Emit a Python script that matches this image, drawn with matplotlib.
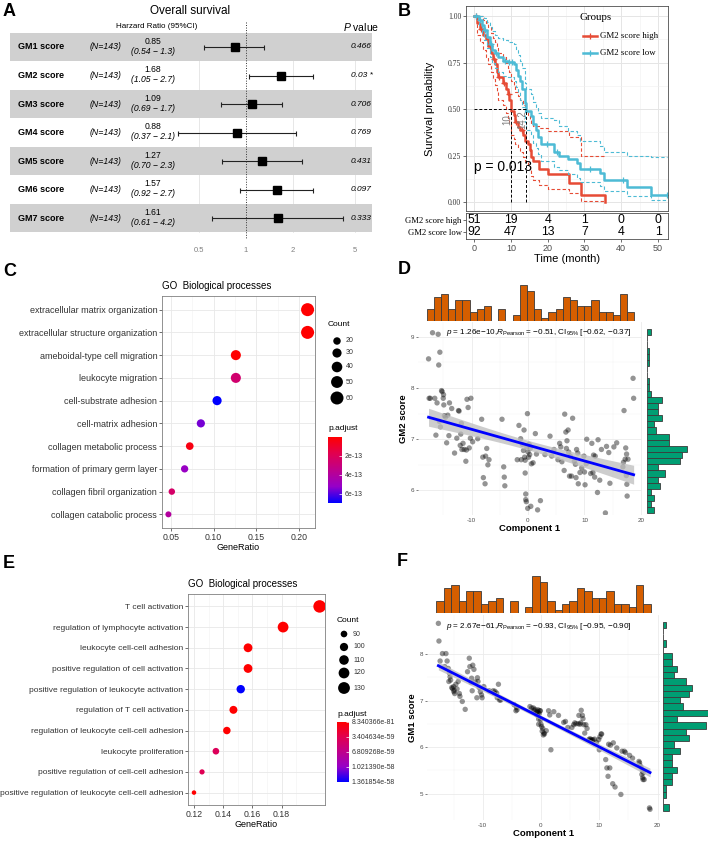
import numpy as np
import matplotlib
matplotlib.use("Agg")
import matplotlib.pyplot as plt
from matplotlib.colors import LinearSegmentedColormap, Normalize
from matplotlib.cm import ScalarMappable
from matplotlib.lines import Line2D
from matplotlib.transforms import blended_transform_factory

plt.rcParams['font.family'] = ['Liberation Sans', 'DejaVu Sans']
plt.rcParams['axes.unicode_minus'] = False
plt.rcParams['mathtext.fontset'] = 'custom'
plt.rcParams['mathtext.rm'] = 'Liberation Sans'
plt.rcParams['mathtext.it'] = 'Liberation Sans:italic'
plt.rcParams['mathtext.bf'] = 'Liberation Sans:bold'

SERIF = 'Liberation Serif'

# ---------------- data: A (forest) ----------------
scores = ['GM1 score', 'GM2 score', 'GM3 score', 'GM4 score', 'GM5 score', 'GM6 score', 'GM7 score']
n_pat = 143
hr = [0.85, 1.68, 1.09, 0.88, 1.27, 1.57, 1.61]
hr_lo = [0.54, 1.05, 0.69, 0.37, 0.70, 0.92, 0.61]
hr_hi = [1.3, 2.7, 1.7, 2.1, 2.3, 2.7, 4.2]
pvals = ['0.466', '0.03 *', '0.706', '0.769', '0.431', '0.097', '0.333']

# ---------------- data: B (Kaplan-Meier) ----------------
groups = ['GM2 score high', 'GM2 score low']
high_t = [0, 0.9, 1.6, 2.5, 3.2, 3.9, 4.6, 5.2, 5.8, 6.3, 6.5, 7.9, 8.8, 9.2, 9.6, 10.0, 10.8, 11.2,
          11.9, 12.5, 13.3, 13.7, 14.6, 15.1, 15.5, 16.1, 17.7, 20.0, 25.8, 29.1, 35.7]
high_s = [1.0, 0.96, 0.93, 0.90, 0.875, 0.84, 0.80, 0.77, 0.74, 0.70, 0.67, 0.64, 0.61, 0.58, 0.55, 0.49,
          0.47, 0.43, 0.405, 0.39, 0.36, 0.33, 0.31, 0.28, 0.24, 0.22, 0.18, 0.15, 0.104, 0.038, 0.0]
high_hi = [1.0, 1.0, 1.0, 0.98, 0.96, 0.94, 0.91, 0.88, 0.86, 0.83, 0.80, 0.78, 0.75, 0.72, 0.70, 0.65,
           0.63, 0.59, 0.57, 0.55, 0.52, 0.49, 0.47, 0.44, 0.42, 0.41, 0.40, 0.38, 0.35, 0.25, 0.25]
high_lo = [1.0, 0.90, 0.86, 0.82, 0.78, 0.74, 0.70, 0.66, 0.63, 0.59, 0.55, 0.52, 0.48, 0.45, 0.42, 0.36,
           0.34, 0.31, 0.29, 0.27, 0.24, 0.22, 0.20, 0.17, 0.14, 0.12, 0.09, 0.07, 0.05, 0.006, 0.006]
high_cens = [0.5, 1.8, 4.2, 5.5, 6.9, 8.2, 9.4, 11.5, 13.0]

low_t = [0, 1.2, 2.1, 2.7, 3.4, 4.3, 5.0, 5.6, 6.5, 7.9, 9.2, 10.8, 11.3, 11.9, 12.5, 13.1, 13.7, 13.9,
         14.2, 15.5, 16.1, 16.8, 17.5, 18.2, 21.6, 23.1, 25.4, 28.0, 28.9, 34.1, 35.2, 41.5, 48.2, 52.5]
low_s = [1.0, 0.98, 0.95, 0.925, 0.89, 0.85, 0.82, 0.80, 0.78, 0.76, 0.755, 0.74, 0.71, 0.68, 0.65, 0.61,
         0.57, 0.53, 0.49, 0.46, 0.42, 0.39, 0.35, 0.31, 0.27, 0.25, 0.23, 0.21, 0.18, 0.154, 0.118, 0.082,
         0.038, 0.038]
low_hi = [1.0, 1.0, 1.0, 0.99, 0.97, 0.94, 0.92, 0.90, 0.88, 0.87, 0.86, 0.85, 0.82, 0.79, 0.76, 0.72,
          0.68, 0.64, 0.61, 0.58, 0.54, 0.51, 0.48, 0.45, 0.44, 0.41, 0.38, 0.36, 0.33, 0.30, 0.27, 0.25,
          0.24, 0.24]
low_lo = [1.0, 0.95, 0.91, 0.87, 0.83, 0.78, 0.75, 0.72, 0.70, 0.68, 0.67, 0.65, 0.62, 0.59, 0.55, 0.51,
          0.47, 0.43, 0.39, 0.36, 0.32, 0.29, 0.26, 0.22, 0.19, 0.17, 0.15, 0.13, 0.11, 0.085, 0.06, 0.035,
          0.01, 0.01]
low_cens = [0.6, 1.5, 3.0, 4.6, 6.0, 8.5, 9.6, 10.2, 19.8, 22.5, 31.6, 40.4, 52.5]

risk_times = [0, 10, 20, 30, 40, 50]
risk_high = [51, 19, 4, 1, 0, 0]
risk_low = [92, 47, 13, 7, 4, 1]

# ---------------- data: C and E (GO dot plots) ----------------
c_terms = ['extracellular matrix organization', 'extracellular structure organization',
           'ameboidal-type cell migration', 'leukocyte migration', 'cell-substrate adhesion',
           'cell-matrix adhesion', 'collagen metabolic process', 'formation of primary germ layer',
           'collagen fibril organization', 'collagen catabolic process']
c_ratio = [0.210, 0.210, 0.126, 0.126, 0.104, 0.085, 0.072, 0.066, 0.051, 0.047]
c_count = [60, 60, 36, 36, 30, 24, 21, 19, 15, 13]
c_padj = [1e-16, 3e-16, 2e-15, 2.6e-13, 6.97e-13, 5.6e-13, 4e-14, 5.1e-13, 2.4e-13, 4.0e-13]

e_terms = ['T cell activation', 'regulation of lymphocyte activation', 'leukocyte cell-cell adhesion',
           'positive regulation of cell activation', 'positive regulation of leukocyte activation',
           'regulation of T cell activation', 'regulation of leukocyte cell-cell adhesion',
           'leukocyte proliferation', 'positive regulation of cell-cell adhesion',
           'positive regulation of leukocyte cell-cell adhesion']
e_ratio = [0.206, 0.181, 0.157, 0.157, 0.152, 0.147, 0.1425, 0.135, 0.1255, 0.120]
e_count = [137, 120, 104, 104, 101, 98, 95, 90, 83, 80]
e_padj = [1e-80, 1e-75, 1e-70, 1e-69, 1.361854e-58, 2e-66, 1e-65, 3.9e-59, 3.6e-59, 5e-62]
e_cbar_ticks = [8.340366e-81, 3.404634e-59, 6.809268e-59, 1.021390e-58, 1.361854e-58]
e_cbar_labels = ['8.340366e-81', '3.404634e-59', '6.809268e-59', '1.021390e-58', '1.361854e-58']

# ---------------- data: D and F (component 1 vs scores) ----------------
comp1 = [-17.6, -17.5, -17.3, -16.9,
         -16.5, -16.3, -16.1, -15.9, -15.8, -15.7, -15.6, -15.5,
         -15.3, -15.2, -15.0, -14.95, -14.9, -14.8, -14.6, -14.4, -14.2,
         -14.0, -13.9, -13.5, -13.0,
         -12.6, -12.3, -12.2, -12.0, -11.9, -11.8, -11.7,
         -11.5, -11.3, -11.0, -10.9, -10.8, -10.6, -10.4,
         -10.2, -10.1, -9.8,
         -8.9, -8.2, -8.0, -7.9,
         -7.6, -7.5, -7.3, -7.1, -6.9,
         -4.6, -4.3, -4.2, -4.1,
         -1.9, -1.6,
         -1.3, -1.2, -1.0, -0.8, -0.7, -0.6, -0.5, -0.5, -0.4, -0.4, -0.3, -0.2,
         -0.1, -0.05, 0.0, 0.1, 0.2, 0.3, 0.4, 0.5, 0.6, 0.9,
         1.3, 1.5, 1.7, 2.2,
         3.0,
         3.9, 4.2, 4.6,
         5.3, 5.6, 5.8, 6.0,
         6.4, 6.5, 6.7, 6.8, 6.9, 7.1, 7.2, 7.35,
         7.5, 7.7, 7.9, 8.2, 8.4, 8.5, 8.6,
         8.8, 8.9, 9.2, 9.5, 9.9,
         10.0, 10.1, 10.3, 10.4, 11.1,
         11.3, 11.5, 11.6, 11.8, 11.9, 12.3, 12.4,
         12.7, 13.0, 13.7,
         13.9, 14.3, 14.5,
         15.2, 15.7,
         16.8, 16.9, 17.0, 17.2, 17.3, 17.4, 17.45, 17.5, 17.55,
         17.7, 18.6, 18.7]
gm2_score = [8.57, 7.80, 7.80, 9.08,
             7.80, 7.08, 7.71, 9.05, 8.45, 7.35, 8.70, 7.24,
             7.95, 7.93, 7.80, 7.87, 7.67, 7.46, 7.43, 6.93, 7.47,
             7.07, 7.71, 7.60, 6.73,
             7.02, 7.56, 7.55, 6.88, 7.10, 7.31, 6.80,
             6.92, 6.80, 6.57, 6.79, 7.78, 7.62, 6.83,
             7.02, 7.80, 6.95,
             7.01, 7.39, 6.65, 6.25,
             6.13, 6.67, 6.82, 6.50, 6.60,
             7.39, 6.46, 6.26, 6.09,
             6.60, 7.27,
             7.01, 6.60, 6.90, 6.78, 7.18, 6.65, 6.59, 6.34, 5.93, 5.82, 5.78, 6.85,
             7.50, 5.65, 6.75, 6.65, 6.90, 6.70, 6.82, 5.69, 6.52, 6.54,
             7.11, 6.71, 5.62, 5.80,
             6.70,
             7.06, 6.67, 6.80,
             6.60, 6.92, 6.85, 6.56,
             6.39, 7.49, 7.14, 6.82, 6.97, 7.18, 6.75, 6.28,
             6.67, 6.28, 7.41, 6.57, 6.51, 6.25, 6.80,
             6.73, 6.13, 6.35, 6.44, 6.67,
             6.36, 6.11, 6.52, 7.00, 6.33,
             6.92, 6.35, 6.69, 6.26, 6.67, 5.96, 6.99,
             6.20, 6.80, 5.56,
             6.86, 6.74, 6.14,
             6.85, 6.93,
             6.46, 6.55, 7.56, 6.61, 6.83, 6.29, 6.71, 6.12, 5.89,
             6.61, 8.19, 7.80]
gm1_score = [8.66, 8.28, 7.85, 8.01,
             7.73, 8.01, 7.85, 7.69, 7.41, 7.59, 7.51, 7.44,
             7.28, 7.26, 7.30, 7.19, 7.22, 7.15, 7.35, 7.25, 7.41,
             7.15, 7.09, 6.98, 6.81,
             7.62, 7.91, 7.73, 7.39, 7.48, 7.21, 7.76,
             7.67, 7.40, 7.06, 7.49, 7.41, 7.28, 7.19,
             7.12, 7.06, 7.30,
             7.21, 7.21, 7.16, 7.20,
             7.16, 7.06, 7.35, 7.01, 7.01,
             6.91, 6.78, 6.85, 6.80,
             6.87, 6.84,
             6.84, 6.79, 6.81, 6.75, 6.69, 6.77, 6.80, 6.74, 6.49, 6.60, 6.72, 6.78,
             6.78, 6.59, 6.49, 6.44, 6.34, 6.40, 6.26, 6.30, 6.28, 6.35,
             6.78, 6.69, 5.94, 6.76,
             6.68,
             6.53, 6.55, 6.42,
             6.42, 6.48, 6.52, 6.50,
             6.50, 6.68, 6.49, 6.52, 6.79, 6.68, 6.61, 6.48,
             6.30, 6.48, 6.40, 6.16, 6.18, 6.14, 6.16,
             6.14, 6.16, 6.17, 6.10, 6.16,
             5.94, 6.22, 6.28, 6.28, 5.73,
             5.55, 5.37, 6.06, 5.55, 6.04, 5.21, 6.09,
             5.14, 5.98, 4.98,
             5.91, 5.91, 5.88,
             5.82, 5.76,
             5.69, 5.66, 5.60, 5.56, 5.41, 5.49, 5.34, 5.30, 5.45,
             5.30, 4.69, 4.66]

# ---------------- figure helpers (pixel layout) ----------------
W, H = 708, 842
fig = plt.figure(figsize=(W / 100, H / 100), dpi=100)


def box(l, t, r, b):
    return fig.add_axes([l / W, 1 - b / H, (r - l) / W, (b - t) / H])


def ftext(x, y, s, **kw):
    kw.setdefault('va', 'center')
    fig.text(x / W, 1 - y / H, s, **kw)


for lab, x, y in [('A', 3, 11), ('B', 398, 11), ('C', 3, 271), ('D', 398, 270), ('E', 3, 564), ('F', 397, 562)]:
    ftext(x, y, lab, fontsize=13, fontweight='bold')

# ================= A: forest plot =================
axA = box(10, 20, 372, 244)
axA.set_xscale('log')
axA.set_xlim(0.0309, 6.41)
axA.set_ylim(6.91, -0.947)
rows = np.arange(len(scores))
for i in rows:
    if i % 2 == 0:
        axA.axhspan(i - 0.5, i + 0.5, color='#D0D0D0', lw=0, zorder=1)
for g in [0.5, 2, 5]:
    axA.plot([g, g], [-0.5, 6.5], color='#E3E3E3', lw=0.6, zorder=0.5)
axA.plot([1, 1], [-0.88, 6.75], color='#333333', lw=0.7, ls=(0, (1, 1.6)), zorder=2)
err = [np.array(hr) - np.array(hr_lo), np.array(hr_hi) - np.array(hr)]
axA.errorbar(hr, rows, xerr=err, fmt='s', color='black', ecolor='#222222', ms=6,
             capsize=1.8, elinewidth=0.8, capthick=0.8, zorder=3)
axA.minorticks_off()
axA.set_xticks([0.5, 1, 2, 5])
axA.set_xticklabels(['0.5', '1', '2', '5'])
axA.tick_params(axis='x', length=0, labelsize=5.5, labelcolor='#7F7F7F', pad=2)
axA.set_yticks([])
for s in axA.spines.values():
    s.set_visible(False)
axA.patch.set_alpha(0)

trA = blended_transform_factory(fig.transFigure, axA.transData)
for i, name in enumerate(scores):
    axA.text(18 / W, i, name, transform=trA, fontsize=6.5, fontweight='bold', va='center')
    axA.text(90 / W, i, f'(N={n_pat})', transform=trA, fontsize=6.3, style='italic', va='center')
    axA.text(153 / W, i - 0.2, f'{hr[i]:.2f}', transform=trA, fontsize=6.2, ha='center', va='center')
    axA.text(153 / W, i + 0.15, f'({hr_lo[i]:.2f} \u2212 {hr_hi[i]:.1f})', transform=trA,
             fontsize=6.2, style='italic', ha='center', va='center')
    axA.text(351 / W, i, pvals[i], transform=trA, fontsize=6, style='italic', va='center')

ftext(190, 11, 'Overall survival', fontsize=8.5, ha='center')
ftext(157, 27, 'Harzard Ratio (95%CI)', fontsize=5.8, ha='center')
ftext(343, 27, r'$\it{P}$ value', fontsize=7.5)

# ================= B: Kaplan-Meier =================
c_high, c_low = '#E64B35', '#4DBBD5'
axB = box(466, 6, 668, 211)
axB.set_xlim(-2.2, 52.7)
axB.set_ylim(-0.048, 1.054)
axB.set_xticks(risk_times)
axB.set_xticks([5, 15, 25, 35, 45], minor=True)
axB.set_yticks([0, 0.25, 0.5, 0.75, 1.0])
axB.set_yticks([0.125, 0.375, 0.625, 0.875], minor=True)
axB.grid(which='major', color='#E5E5E5', lw=0.7)
axB.grid(which='minor', color='#F0F0F0', lw=0.4)
axB.set_axisbelow(True)
axB.tick_params(axis='x', which='both', length=0, labelbottom=False)
axB.tick_params(axis='y', which='minor', length=0)
axB.tick_params(axis='y', which='major', length=2, width=0.5, color='#333333', labelsize=5.5, pad=1.5)
axB.set_yticklabels(['0.00', '0.25', '0.50', '0.75', '1.00'], fontfamily=SERIF, color='#333333')
for s in axB.spines.values():
    s.set_color('#4D4D4D')
    s.set_linewidth(0.6)
axB.set_ylabel('Survival probability', fontsize=8, labelpad=9)

for t, s_, hi, lo, cens, col in [(high_t, high_s, high_hi, high_lo, high_cens, c_high),
                                 (low_t, low_s, low_hi, low_lo, low_cens, c_low)]:
    axB.step(t, hi, where='post', color=col, lw=0.8, ls=(0, (3, 2)))
    axB.step(t, lo, where='post', color=col, lw=0.8, ls=(0, (3, 2)))
    axB.step(t, s_, where='post', color=col, lw=1.8)
    idx = np.searchsorted(t, cens, side='right') - 1
    axB.plot(cens, np.array(s_)[idx], ls='', marker='+', color=col, ms=4, mew=0.9)

# median survival lines
medians = []
for t, s_ in [(high_t, high_s), (low_t, low_s)]:
    k = int(np.argmax(np.array(s_) <= 0.5))
    medians.append(t[k])
axB.plot([0, max(medians)], [0.5, 0.5], color='black', lw=0.7, ls=(0, (3, 2)))
for m in medians:
    axB.plot([m, m], [0, 0.5], color='black', lw=0.7, ls=(0, (3, 2)))
    axB.text(m - 1.0, 0.445, f'{m:g}', rotation=90, color='#808080', fontsize=7, ha='center', va='center')
axB.text(0, 0.19, 'p = 0.013', fontsize=10, ha='left', va='center')

# legend
ftext(580, 17, 'Groups', fontsize=7.8, fontfamily=SERIF)
for j, (g, col) in enumerate(zip(groups, [c_high, c_low])):
    yy = 1 - (36 + 17 * j) / H
    fig.add_artist(Line2D([583 / W, 597 / W], [yy, yy], color=col, lw=1.8))
    fig.add_artist(Line2D([590 / W], [yy], color=col, marker='+', ms=4, mew=0.9))
    ftext(600, 36 + 17 * j, g, fontsize=6.4, fontfamily=SERIF)

# risk table
axR = box(466, 213, 668, 239)
axR.set_xlim(-2.2, 52.7)
axR.set_ylim(1.6, -0.6)
for j, vals in enumerate([risk_high, risk_low]):
    for t, v in zip(risk_times, vals):
        axR.text(t, j, str(v), fontsize=8.8, ha='center', va='center')
axR.set_yticks([0, 1])
axR.set_yticklabels(groups, fontfamily=SERIF, fontsize=6.2)
axR.set_xticks(risk_times)
axR.tick_params(axis='both', length=2, width=0.5, color='#333333')
axR.tick_params(axis='x', labelsize=6.5, labelcolor='#4D4D4D', pad=1.5)
axR.tick_params(axis='y', pad=1)
for s in axR.spines.values():
    s.set_color('#4D4D4D')
    s.set_linewidth(0.6)
axR.set_xlabel('Time (month)', fontsize=8, labelpad=0.5)

# ================= C & E: GO dot plots =================
cmap = LinearSegmentedColormap.from_list('rb', ['#FF0000', '#E10050', '#BE008C', '#9600C8', '#0000FF'])

# overlay in pixel units, used only for the legend keys
axL = box(0, 0, W, H)
axL.set_xlim(0, W)
axL.set_ylim(H, 0)
axL.axis('off')
axL.patch.set_alpha(0)


def dot_size(counts, c, dmin, dmax):
    t = (np.asarray(c, float) - min(counts)) / (max(counts) - min(counts))
    return np.sqrt(dmin ** 2 + (dmax ** 2 - dmin ** 2) * t) * 0.72  # diameter in points


def go_panel(frame, title_y, terms, ratio, count, padj, xlim, xticks, minor, dmin, dmax, lab_size,
             size_breaks, count_xy, key_x, key_y, padj_xy, cbox, cticks, clabels, vmin, vmax):
    ax = box(*frame)
    y = np.arange(len(terms))
    norm = Normalize(vmin=vmin, vmax=vmax)
    d = dot_size(count, count, dmin, dmax)
    ax.scatter(ratio, y, s=d ** 2, c=padj, cmap=cmap, norm=norm, edgecolors='none', zorder=3)
    ax.set_xlim(*xlim)
    ax.set_ylim(len(terms) - 0.4, -0.6)
    ax.set_yticks(y)
    ax.set_yticklabels(terms, fontsize=lab_size, color='#333333')
    ax.set_xticks(xticks)
    ax.set_xticks(minor, minor=True)
    ax.set_xticklabels([f'{v:.2f}' for v in xticks])
    ax.tick_params(axis='both', which='major', length=2, width=0.5, color='#333333', pad=1.5)
    ax.tick_params(axis='x', which='major', labelsize=6.3, labelcolor='#333333')
    ax.tick_params(axis='x', which='minor', length=0)
    ax.grid(which='major', color='#E8E8E8', lw=0.6)
    ax.grid(which='minor', axis='x', color='#F2F2F2', lw=0.4)
    ax.set_axisbelow(True)
    for s in ax.spines.values():
        s.set_color('#808080')
        s.set_linewidth(0.6)
    ax.set_xlabel('GeneRatio', fontsize=6.5, labelpad=0.5)
    ftext(frame[0], title_y, 'GO  Biological processes', fontsize=7)
    # size legend
    ftext(count_xy[0], count_xy[1], 'Count', fontsize=6)
    for b, ky in zip(size_breaks, key_y):
        axL.scatter([key_x], [ky], s=float(dot_size(count, b, dmin, dmax)) ** 2, color='black',
                    edgecolors='none')
        axL.text(key_x + 9, ky, str(b), fontsize=5, va='center', color='#333333')
    # colour bar
    ftext(padj_xy[0], padj_xy[1], 'p.adjust', fontsize=6)
    cax = box(*cbox)
    cb = fig.colorbar(ScalarMappable(norm=norm, cmap=cmap), cax=cax)
    cb.ax.invert_yaxis()
    cb.set_ticks(cticks)
    cb.set_ticklabels(clabels)
    cb.outline.set_visible(False)
    cb.ax.tick_params(length=2, width=0.5, color='white', direction='in', labelsize=5,
                      labelcolor='#333333', pad=2)
    return ax


go_panel((162, 296, 315, 528), 286, c_terms, c_ratio, c_count, c_padj,
         (0.0395, 0.2187), [0.05, 0.10, 0.15, 0.20], [0.075, 0.125, 0.175], 6, 13, 6.5,
         [20, 30, 40, 50, 60], (328, 325), 337, [341, 353, 367, 382, 398],
         (328, 428), (328, 437, 342, 503),
         [2e-13, 4e-13, 6e-13], ['2e-13', '4e-13', '6e-13'], min(c_padj), max(c_padj))

go_panel((188, 594, 325, 805), 584, e_terms, e_ratio, e_count, e_padj,
         (0.1159, 0.2097), [0.12, 0.14, 0.16, 0.18], [0.13, 0.15, 0.17, 0.19], 4.5, 12.5, 6.0,
         [90, 100, 110, 120, 130], (337, 621), 344, [634, 647, 660, 673, 688],
         (337, 714), (337, 722, 349, 782),
         e_cbar_ticks, e_cbar_labels, e_cbar_ticks[0], e_cbar_ticks[-1])

# ================= D & F: scatter with marginal histograms =================
xbins = np.linspace(-17.94, 18.83, 30)


def marginal_panel(main_box, top_box, right_box, x, y, xlim, ylim, yticks, ybins,
                   top_max, right_max, ylabel, note, note_xy):
    x = np.asarray(x)
    y = np.asarray(y)
    ax = box(*main_box)
    ax.set_xlim(*xlim)
    ax.set_ylim(*ylim)
    ax.set_xticks([-10, 0, 10, 20])
    ax.set_xticks([-15, -5, 5, 15], minor=True)
    ax.set_yticks(yticks)
    ax.set_yticks(np.array(yticks[:-1]) + 0.5, minor=True)
    ax.grid(which='major', color='#EBEBEB', lw=0.6)
    ax.grid(which='minor', color='#F3F3F3', lw=0.35)
    ax.set_axisbelow(True)
    for s in ax.spines.values():
        s.set_visible(False)
    ax.tick_params(which='minor', length=0)
    ax.tick_params(axis='x', which='major', length=0, labelsize=4.5, labelcolor='#4D4D4D', pad=2)
    ax.tick_params(axis='y', which='major', length=1.5, width=0.5, color='#4D4D4D',
                   labelsize=4.5, labelcolor='#4D4D4D', pad=1)
    ax.scatter(x, y, s=15, color='black', alpha=0.42, edgecolors='none', zorder=2)
    # linear fit with 95% band
    b1, b0 = np.polyfit(x, y, 1)
    xs = np.linspace(x.min(), x.max(), 100)
    n = len(x)
    resid = y - (b0 + b1 * x)
    sres = np.sqrt(np.sum(resid ** 2) / (n - 2))
    se = sres * np.sqrt(1 / n + (xs - x.mean()) ** 2 / np.sum((x - x.mean()) ** 2))
    ax.fill_between(xs, b0 + b1 * xs - 1.977 * se, b0 + b1 * xs + 1.977 * se, color='#BDBDBD',
                    alpha=0.75, lw=0, zorder=3)
    ax.plot(xs, b0 + b1 * xs, color='#0000FF', lw=2, zorder=4)
    ax.set_xlabel('Component 1', fontsize=6.8, fontweight='bold', labelpad=1)
    ax.set_ylabel(ylabel, fontsize=6.8, fontweight='bold', labelpad=2)
    ftext(note_xy[0], note_xy[1], note, fontsize=5.9)

    axt = box(*top_box)
    axt.hist(x, bins=xbins, color='#D55E00', edgecolor='#3A3A3A', lw=0.6)
    axt.set_xlim(*xlim)
    axt.set_ylim(0, top_max)
    axt.axis('off')

    axr = box(*right_box)
    axr.hist(y, bins=ybins, orientation='horizontal', color='#009E73', edgecolor='#3A3A3A', lw=0.6)
    axr.set_ylim(*ylim)
    axr.set_xlim(0, right_max)
    axr.axis('off')


marginal_panel((418, 322, 642, 515), (418, 283, 642, 321), (647, 322, 700, 515),
               comp1, gm2_score, (-19.47, 20.18), (5.52, 9.29), [6, 7, 8, 9],
               np.linspace(5.55, 9.15, 31), 12.6, 24, 'GM2 score',
               '$\\it{p}$ = 1.26e\u221210,$\\it{R}_{\\rm{Pearson}}$ = \u22120.51, CI$_{95\\%}$ [\u22120.62, \u22120.37]',
               (446, 333))

marginal_panel((427, 615, 660, 820), (427, 575, 660, 613), (663, 615, 708, 820),
               comp1, gm1_score, (-19.55, 20.41), (4.43, 8.84), [5, 6, 7, 8],
               np.linspace(4.63, 8.70, 31), 12.3, 15.7, 'GM1 score',
               '$\\it{p}$ = 2.67e\u221261,$\\it{R}_{\\rm{Pearson}}$ = \u22120.93, CI$_{95\\%}$ [\u22120.95, \u22120.90]',
               (446, 626))

fig.savefig('out.png', dpi=100)
